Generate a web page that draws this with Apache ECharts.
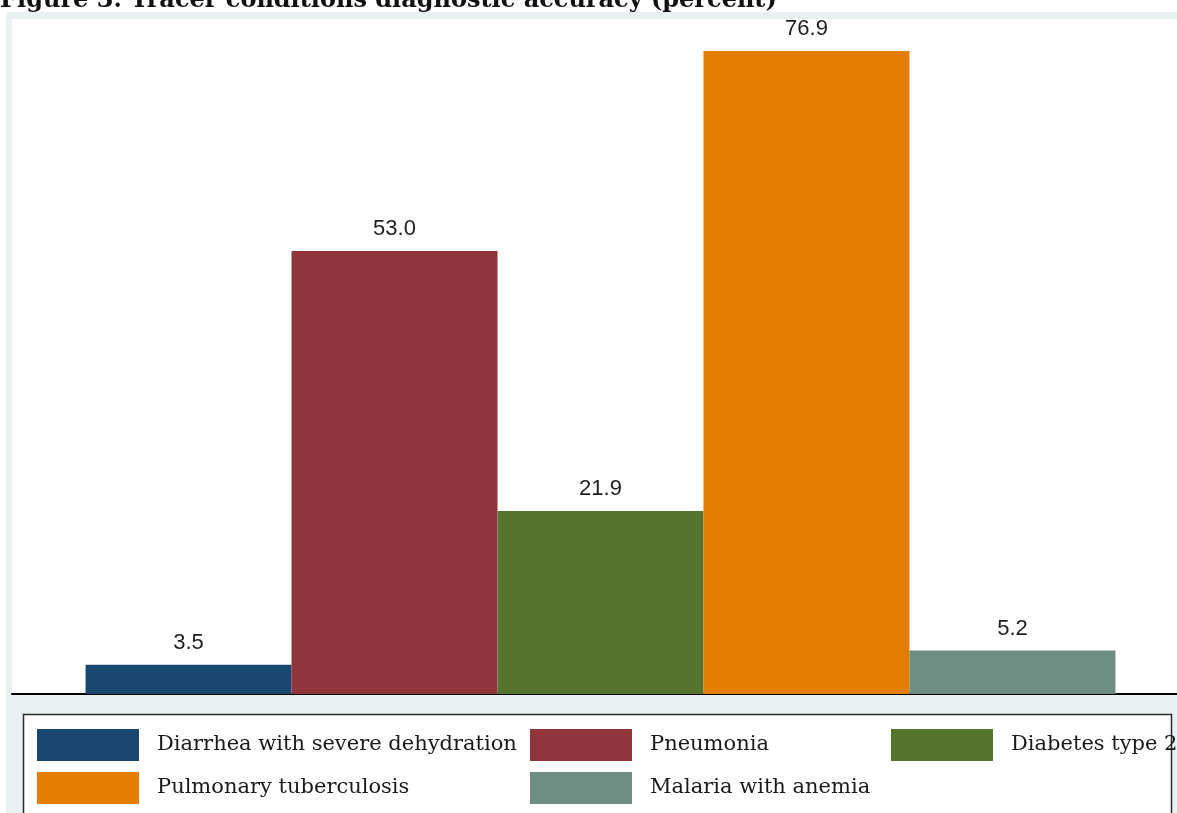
<!DOCTYPE html>
<html>
<head>
<meta charset="utf-8">
<script src="https://cdn.jsdelivr.net/npm/echarts@6/dist/echarts.min.js"></script>
<style>
  html, body { margin: 0; padding: 0; background: #ffffff; }
  #chart { width: 1177px; height: 813px; }
</style>
</head>
<body>
<div id="chart"></div>
<script>
// Diagnostic accuracy (percent) by tracer condition
const conditions = [
  'Diarrhea with severe dehydration',
  'Pneumonia',
  'Diabetes type 2',
  'Pulmonary tuberculosis',
  'Malaria with anemia'
];
const accuracy = [3.5, 53.0, 21.9, 76.9, 5.2];
const colors = ['#1a476f', '#90353b', '#55752f', '#e37e00', '#6e8e84'];
const titleText = 'Figure 3: Tracer conditions diagnostic accuracy (percent)';

const serif = 'DejaVu Serif';
const sans = 'Liberation Sans';

const series = conditions.map((name, i) => ({
  name: name,
  type: 'bar',
  data: [accuracy[i]],
  barGap: '0%',
  barCategoryGap: '12.5%',
  itemStyle: { color: colors[i] },
  label: {
    show: true,
    position: 'top',
    distance: 11,
    formatter: p => p.value.toFixed(1),
    fontFamily: sans,
    fontSize: 22,
    color: '#1e1e1e'
  },
  emphasis: { disabled: true }
}));

// legend layout: two rows, three columns
const legendSlots = [
  { left: 37, top: 729 },
  { left: 530, top: 729 },
  { left: 891, top: 729 },
  { left: 37, top: 772 },
  { left: 530, top: 772 }
];
const legends = conditions.map((name, i) => ({
  data: [name],
  left: legendSlots[i].left,
  top: legendSlots[i].top,
  padding: 0,
  itemWidth: 102,
  itemHeight: 32,
  icon: 'rect',
  selectedMode: false,
  itemStyle: { borderWidth: 0 },
  textStyle: {
    fontFamily: serif,
    fontSize: 21,
    color: '#1a1a1a',
    padding: [0, 0, 0, 13]
  }
}));

const chart = echarts.init(document.getElementById('chart'), null, { renderer: 'canvas' });
chart.setOption({
  animation: false,
  backgroundColor: '#ffffff',
  graphic: [
    { type: 'rect', z: -10, shape: { x: 6, y: 12, width: 1300, height: 900 }, style: { fill: '#e9f1f3' } },
    { type: 'rect', z: -9, shape: { x: 12, y: 19, width: 1300, height: 675 }, style: { fill: '#ffffff' } },
    { type: 'rect', z: -9, shape: { x: 23.5, y: 714.5, width: 1148, height: 200 }, style: { fill: '#ffffff', stroke: '#2b2b2b', lineWidth: 1.5 } },
    {
      type: 'text', z: 10, left: 0, top: -11,
      style: { text: titleText, fontFamily: serif, fontWeight: 'bold', fontSize: 24, fill: '#111111' }
    }
  ],
  // plot area runs past the right edge of the canvas
  grid: { left: 12, right: -12, top: 19, bottom: 119, containLabel: false, outerBoundsMode: 'none' },
  xAxis: {
    type: 'category',
    data: [''],
    axisLine: { show: true, lineStyle: { color: '#000000', width: 2 } },
    axisTick: { show: false },
    axisLabel: { show: false },
    splitLine: { show: false }
  },
  yAxis: {
    type: 'value',
    min: 0,
    max: 80.74,
    show: false,
    splitLine: { show: false }
  },
  legend: legends,
  series: series
});
</script>
</body>
</html>
